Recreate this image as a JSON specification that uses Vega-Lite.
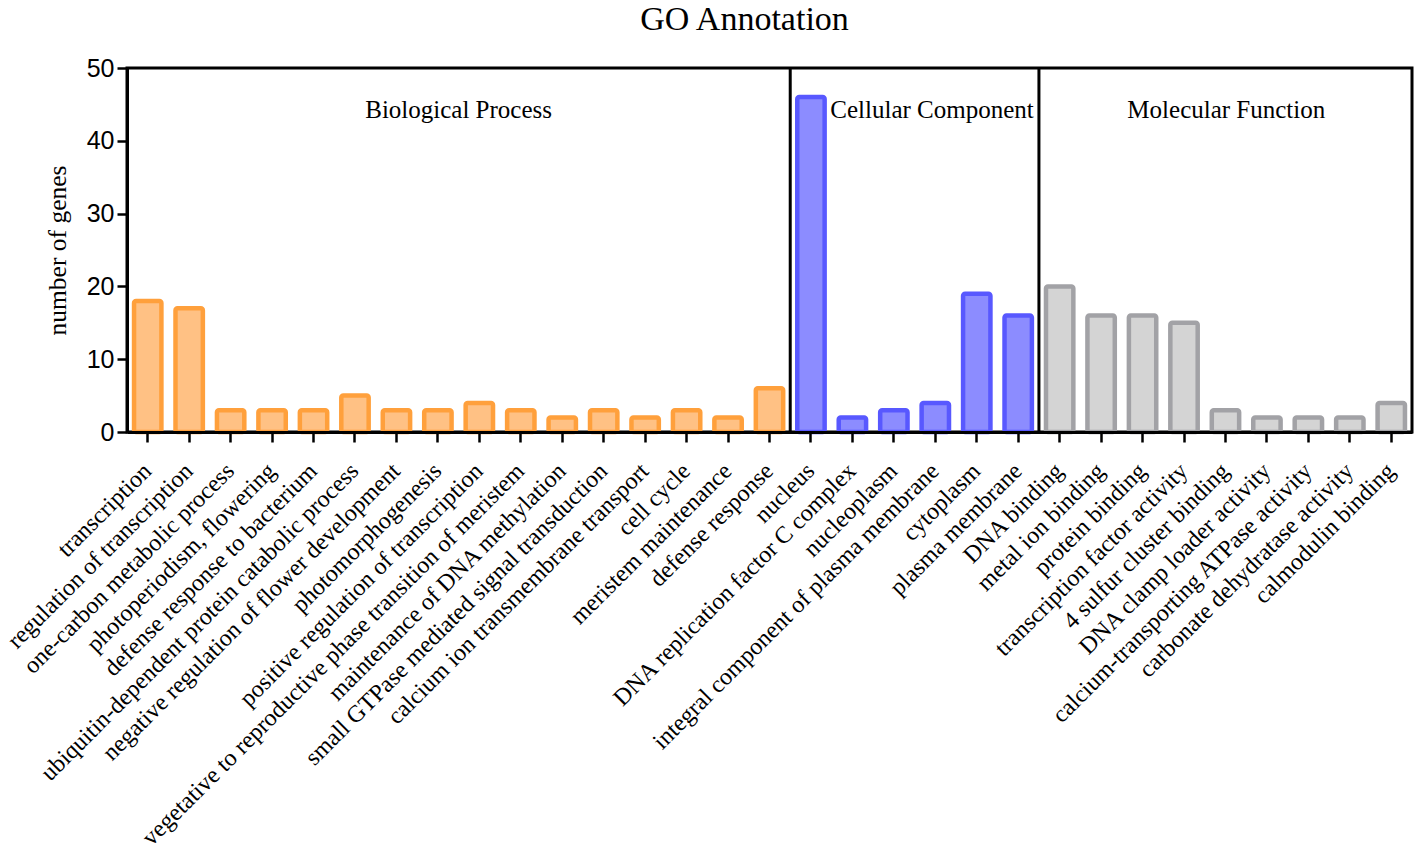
{
  "$schema": "https://vega.github.io/schema/vega-lite/v6.json",
  "autosize": "none",
  "width": 1285,
  "height": 364,
  "padding": {"left": 127, "top": 68, "right": 6, "bottom": 429},
  "background": "white",
  "config": {
    "view": {"stroke": "black", "strokeWidth": 3},
    "axis": {"grid": false}
  },
  "title": {
    "text": "GO Annotation",
    "font": "Liberation Serif",
    "fontSize": 34,
    "fontWeight": "normal",
    "color": "black",
    "anchor": "middle",
    "dx": -25,
    "offset": 19
  },
  "datasets": {
    "genes": [
      {"term": "transcription", "group": "Biological Process", "count": 18},
      {"term": "regulation of transcription", "group": "Biological Process", "count": 17},
      {"term": "one-carbon metabolic process", "group": "Biological Process", "count": 3},
      {"term": "photoperiodism, flowering", "group": "Biological Process", "count": 3},
      {"term": "defense response to bacterium", "group": "Biological Process", "count": 3},
      {"term": "ubiquitin-dependent protein catabolic process", "group": "Biological Process", "count": 5},
      {"term": "negative regulation of flower development", "group": "Biological Process", "count": 3},
      {"term": "photomorphogenesis", "group": "Biological Process", "count": 3},
      {"term": "positive regulation of transcription", "group": "Biological Process", "count": 4},
      {"term": "vegetative to reproductive phase transition of meristem", "group": "Biological Process", "count": 3},
      {"term": "maintenance of DNA methylation", "group": "Biological Process", "count": 2},
      {"term": "small GTPase mediated signal transduction", "group": "Biological Process", "count": 3},
      {"term": "calcium ion transmembrane transport", "group": "Biological Process", "count": 2},
      {"term": "cell cycle", "group": "Biological Process", "count": 3},
      {"term": "meristem maintenance", "group": "Biological Process", "count": 2},
      {"term": "defense response", "group": "Biological Process", "count": 6},
      {"term": "nucleus", "group": "Cellular Component", "count": 46},
      {"term": "DNA replication factor C complex", "group": "Cellular Component", "count": 2},
      {"term": "nucleoplasm", "group": "Cellular Component", "count": 3},
      {"term": "integral component of plasma membrane", "group": "Cellular Component", "count": 4},
      {"term": "cytoplasm", "group": "Cellular Component", "count": 19},
      {"term": "plasma membrane", "group": "Cellular Component", "count": 16},
      {"term": "DNA binding", "group": "Molecular Function", "count": 20},
      {"term": "metal ion binding", "group": "Molecular Function", "count": 16},
      {"term": "protein binding", "group": "Molecular Function", "count": 16},
      {"term": "transcription factor activity", "group": "Molecular Function", "count": 15},
      {"term": "4 sulfur cluster binding", "group": "Molecular Function", "count": 3},
      {"term": "DNA clamp loader activity", "group": "Molecular Function", "count": 2},
      {"term": "calcium-transporting ATPase activity", "group": "Molecular Function", "count": 2},
      {"term": "carbonate dehydratase activity", "group": "Molecular Function", "count": 2},
      {"term": "calmodulin binding", "group": "Molecular Function", "count": 4}
    ],
    "groups": [
      {"group": "Biological Process", "pos": 8, "level": 44.2},
      {"group": "Cellular Component", "pos": 19.42, "level": 44.2},
      {"group": "Molecular Function", "pos": 26.52, "level": 44.2}
    ],
    "dividers": [
      {"pos": 16},
      {"pos": 22}
    ]
  },
  "layer": [
    {
      "data": {"name": "genes"},
      "mark": {"type": "rect", "strokeWidth": 4.5, "cornerRadius": 2},
      "encoding": {
        "x": {
          "field": "term",
          "type": "nominal",
          "sort": null,
          "scale": {"type": "band", "paddingInner": 0.34, "paddingOuter": 0.17},
          "axis": {
            "title": null,
            "labelAngle": -45,
            "labelAlign": "right",
            "labelBaseline": "middle",
            "labelFont": "Liberation Serif",
            "labelFontSize": 24,
            "labelColor": "black",
            "labelPadding": 25,
            "labelLimit": 0,
            "tickSize": 10,
            "tickWidth": 2.5,
            "tickColor": "black",
            "domainColor": "black",
            "domainWidth": 3
          }
        },
        "y": {
          "field": "count",
          "type": "quantitative",
          "scale": {"domain": [0, 50], "nice": false, "zero": true},
          "axis": {
            "title": "number of genes",
            "titleFont": "Liberation Serif",
            "titleFontSize": 25.5,
            "titleFontWeight": "normal",
            "titleColor": "black",
            "titlePadding": 16,
            "values": [0, 10, 20, 30, 40, 50],
            "labelFont": "Liberation Sans",
            "labelFontSize": 25,
            "labelColor": "black",
            "labelPadding": 3,
            "tickSize": 10,
            "tickWidth": 2.5,
            "tickColor": "black",
            "domainColor": "black",
            "domainWidth": 3
          }
        },
        "y2": {"datum": 0},
        "fill": {
          "field": "group",
          "type": "nominal",
          "scale": {
            "domain": ["Biological Process", "Cellular Component", "Molecular Function"],
            "range": ["#FFC184", "#8C8CFF", "#D4D4D4"]
          },
          "legend": null
        },
        "stroke": {
          "field": "group",
          "type": "nominal",
          "scale": {
            "domain": ["Biological Process", "Cellular Component", "Molecular Function"],
            "range": ["#FFA03C", "#5858FF", "#A2A2A6"]
          },
          "legend": null
        }
      }
    },
    {
      "data": {"name": "dividers"},
      "mark": {"type": "rule", "color": "black", "strokeWidth": 3},
      "encoding": {
        "x": {
          "field": "pos",
          "type": "quantitative",
          "scale": {"domain": [0, 31], "nice": false, "zero": false},
          "axis": null
        }
      }
    },
    {
      "data": {"name": "groups"},
      "mark": {
        "type": "text",
        "font": "Liberation Serif",
        "fontSize": 25,
        "color": "black",
        "align": "center",
        "baseline": "middle"
      },
      "encoding": {
        "x": {
          "field": "pos",
          "type": "quantitative",
          "scale": {"domain": [0, 31], "nice": false, "zero": false},
          "axis": null
        },
        "y": {"field": "level", "type": "quantitative"},
        "text": {"field": "group"}
      }
    }
  ],
  "resolve": {"scale": {"x": "independent"}, "axis": {"x": "independent"}}
}
